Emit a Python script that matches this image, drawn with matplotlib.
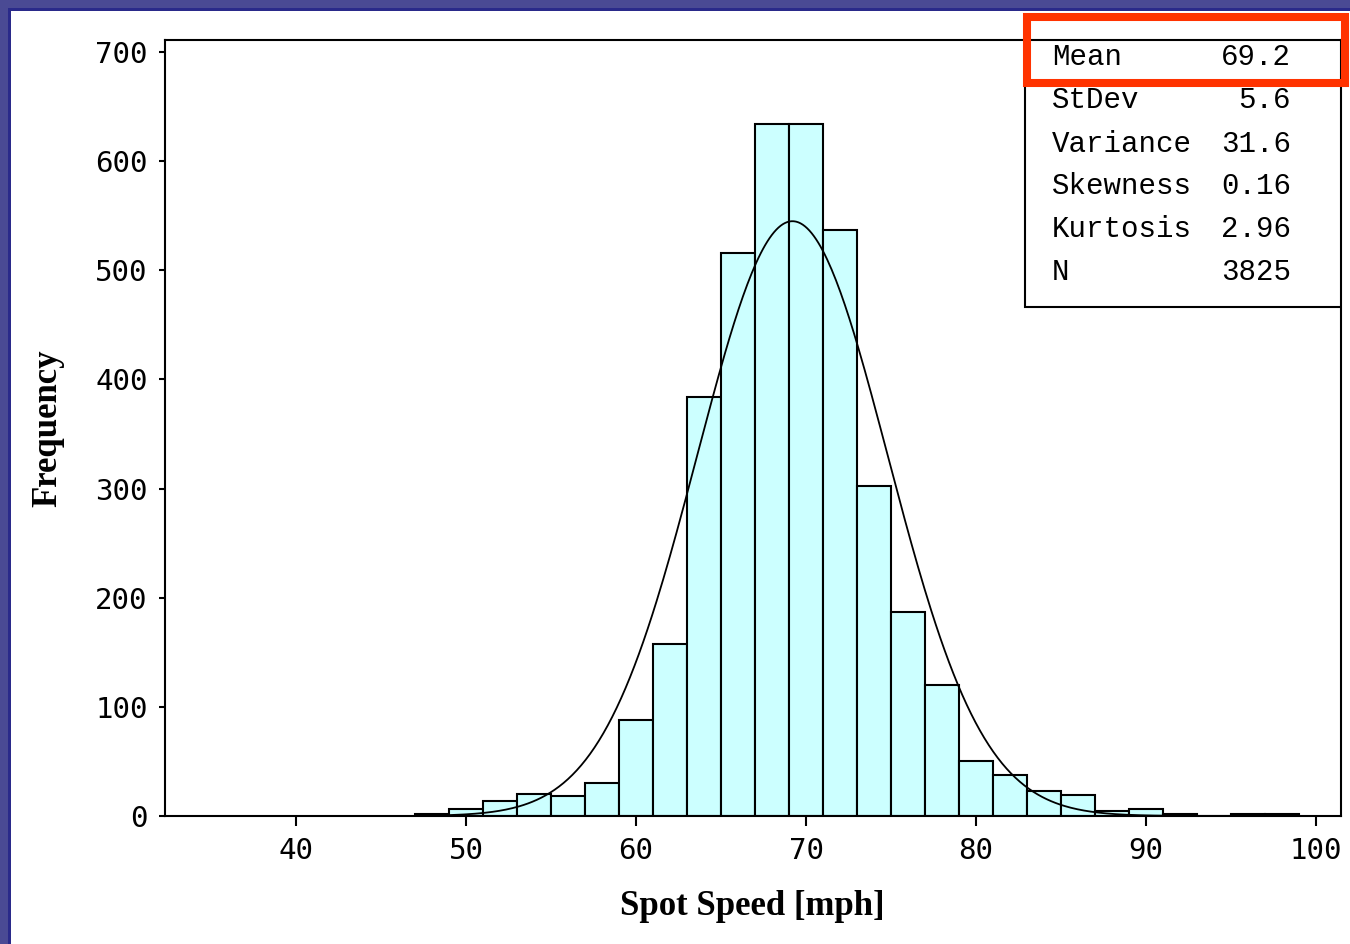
import numpy as np
import matplotlib
matplotlib.use("Agg")
import matplotlib.pyplot as plt
from matplotlib.patches import Rectangle

# histogram bins (left edge, mph) and counts
bin_left = [47, 49, 51, 53, 55, 57, 59, 61, 63, 65, 67, 69, 71,
            73, 75, 77, 79, 81, 83, 85, 87, 89, 91, 93, 95, 97]
counts = [2, 6, 14, 20, 18, 30, 88, 158, 384, 516, 634, 634, 537,
          302, 187, 120, 50, 38, 23, 19, 5, 6, 2, 0, 2, 2]
bin_width = 2

# summary statistics shown in the box
stat_names = ["Mean", "StDev", "Variance", "Skewness", "Kurtosis", "N"]
stat_values = ["69.2", "5.6", "31.6", "0.16", "2.96", "3825"]
mean, stdev, n_obs = 69.2, 5.6, 3825

x_ticks = [40, 50, 60, 70, 80, 90, 100]
y_ticks = [0, 100, 200, 300, 400, 500, 600, 700]

W, H = 1350, 944
fig = plt.figure(figsize=(W / 100, H / 100), dpi=100)
fig.patch.set_facecolor("#4a4a94")

# white slide panel with a thin frame
fig.patches.append(Rectangle((8 / W, -0.01), 1, 1 - 8 / H + 0.01, transform=fig.transFigure,
                             facecolor="#2a2a8a", edgecolor="none", zorder=-3))
fig.patches.append(Rectangle((11 / W, -0.01), 1, 1 - 11 / H + 0.01, transform=fig.transFigure,
                             facecolor="white", edgecolor="none", zorder=-2))

ax = fig.add_axes([165 / W, 1 - 816 / H, (1341 - 165) / W, (816 - 40) / H])

ax.bar(bin_left, counts, width=bin_width, align="edge",
       color="#ccffff", edgecolor="black", linewidth=1.5, zorder=2)

# fitted normal curve from the shown mean / stdev / N
xs = np.linspace(47, 99, 400)
ys = n_obs * bin_width / (stdev * np.sqrt(2 * np.pi)) * np.exp(-0.5 * ((xs - mean) / stdev) ** 2)
ax.plot(xs, ys, color="black", lw=1.3, zorder=3)

ax.set_xlim(32.29, 101.47)
ax.set_ylim(0, 711)
ax.set_xticks(x_ticks)
ax.set_yticks(y_ticks)
ax.tick_params(axis="x", length=7, width=1.5, pad=8, labelsize=21)
ax.tick_params(axis="y", length=4.5, width=1.5, pad=8, labelsize=21)
for lab in ax.get_xticklabels() + ax.get_yticklabels():
    lab.set_family("DejaVu Sans Mono")
for s in ax.spines.values():
    s.set_linewidth(1.5)

ax.set_xlabel("Spot Speed [mph]", family="Liberation Serif", fontweight="bold",
              fontsize=25)
ax.xaxis.set_label_coords((752 - 165) / 1176, -(890 - 816) / 776)
ax.set_ylabel("Frequency", family="Liberation Serif", fontweight="bold",
              fontsize=25)
ax.yaxis.set_label_coords((64 - 165) / 1176, (816 - 428) / 776)

# stats box in the top right corner
ax.add_patch(Rectangle((0.731, 0.656), 0.269, 0.344, transform=ax.transAxes,
                       facecolor="white", edgecolor="black", lw=1.5, zorder=4))
row_y = [57, 100, 144, 186, 229, 272]
for name, val, py in zip(stat_names, stat_values, row_y):
    fy = (816 - py) / 776
    ax.text(0.754, fy, name, transform=ax.transAxes, family="Liberation Mono",
            fontsize=21, va="center", ha="left", zorder=5)
    ax.text(0.9575, fy, val, transform=ax.transAxes, family="Liberation Mono",
            fontsize=21, va="center", ha="right", zorder=5)

# red highlight around the Mean row
fig.patches.append(Rectangle((1027 / W, 1 - 83 / H), (1345 - 1027) / W, 66 / H,
                             transform=fig.transFigure, facecolor="none",
                             edgecolor="#ff3300", lw=5.8, zorder=10))

fig.savefig("out.png", dpi=100)
